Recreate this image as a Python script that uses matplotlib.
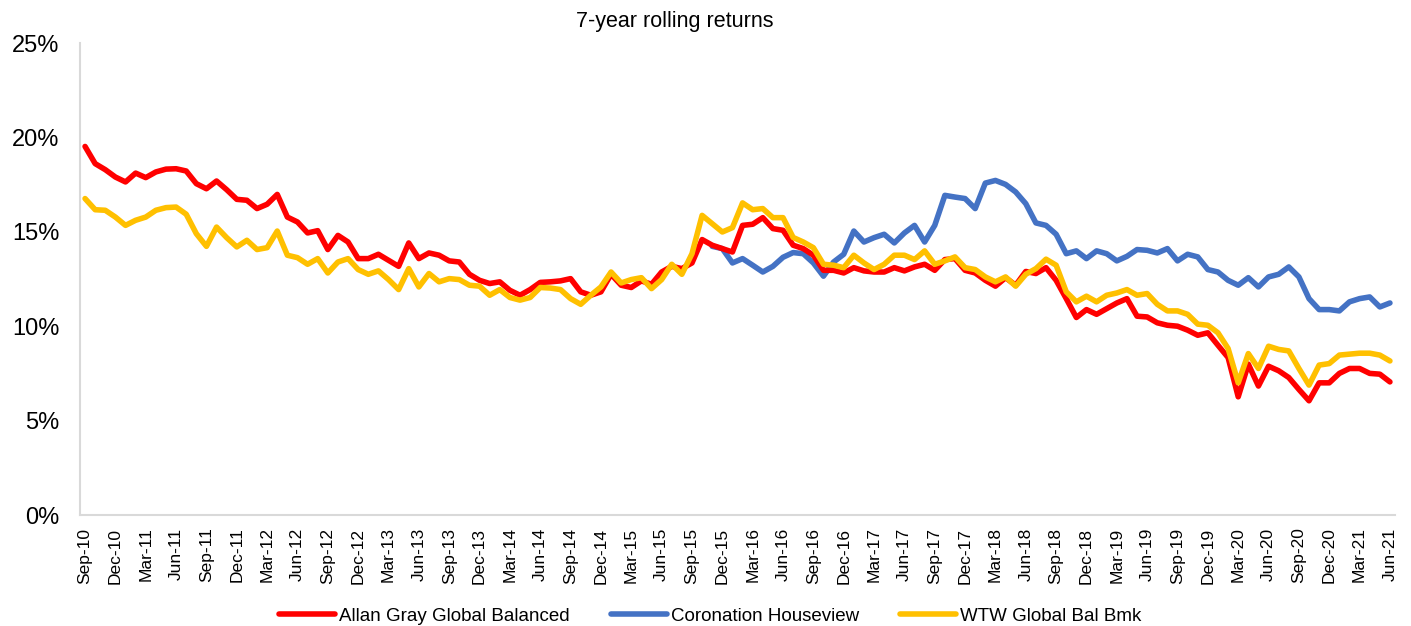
import matplotlib
matplotlib.use("Agg")
import matplotlib.pyplot as plt
import numpy as np
import pandas as pd

plt.rcParams['font.family'] = ['Liberation Sans', 'DejaVu Sans']

start_month = "2010-09"
n_months = 130

allan_gray = [
    19.52, 18.61, 18.29, 17.90, 17.64, 18.11, 17.87, 18.17, 18.32, 18.34,
    18.22, 17.55, 17.28, 17.69, 17.23, 16.72, 16.67, 16.23, 16.46, 16.98,
    15.78, 15.52, 14.94, 15.06, 14.06, 14.81, 14.46, 13.58, 13.58, 13.81,
    13.49, 13.17, 14.41, 13.58, 13.88, 13.76, 13.46, 13.40, 12.75, 12.43,
    12.26, 12.35, 11.90, 11.64, 11.94, 12.32, 12.35, 12.40, 12.52, 11.82,
    11.64, 11.82, 12.75, 12.17, 12.05, 12.40, 12.22, 12.87, 13.17, 13.05,
    13.35, 14.59, 14.29, 14.11, 13.93, 15.34, 15.40, 15.75, 15.17, 15.08,
    14.29, 14.11, 13.76, 12.96, 12.96, 12.82, 13.10, 12.93, 12.87, 12.87,
    13.10, 12.93, 13.14, 13.28, 12.96, 13.53, 13.58, 12.96, 12.82, 12.43,
    12.12, 12.57, 12.17, 12.90, 12.79, 13.10, 12.43, 11.46, 10.46, 10.88,
    10.63, 10.93, 11.23, 11.46, 10.53, 10.49, 10.18, 10.05, 10.00, 9.79,
    9.52, 9.65, 8.99, 8.34, 6.26, 7.99, 6.83, 7.88, 7.64, 7.28,
    6.65, 6.05, 7.00, 7.00, 7.50, 7.76, 7.76, 7.50, 7.46, 7.05,
]

wtw_bmk = [
    16.76, 16.17, 16.14, 15.78, 15.34, 15.61, 15.78, 16.14, 16.28, 16.31,
    15.93, 14.90, 14.23, 15.25, 14.69, 14.20, 14.55, 14.06, 14.16, 15.04,
    13.76, 13.63, 13.28, 13.58, 12.82, 13.40, 13.58, 13.00, 12.75, 12.93,
    12.47, 11.94, 13.05, 12.08, 12.79, 12.35, 12.52, 12.47, 12.17, 12.12,
    11.64, 11.94, 11.52, 11.38, 11.52, 12.05, 12.02, 11.94, 11.46, 11.16,
    11.64, 12.08, 12.87, 12.29, 12.47, 12.57, 11.99, 12.47, 13.28, 12.75,
    13.84, 15.87, 15.43, 14.99, 15.22, 16.53, 16.17, 16.23, 15.75, 15.75,
    14.70, 14.46, 14.16, 13.28, 13.23, 13.10, 13.76, 13.35, 13.00, 13.28,
    13.76, 13.76, 13.53, 13.99, 13.28, 13.46, 13.67, 13.10, 13.00, 12.61,
    12.35, 12.61, 12.12, 12.75, 13.05, 13.55, 13.23, 11.82, 11.29, 11.59,
    11.29, 11.64, 11.76, 11.94, 11.64, 11.73, 11.16, 10.81, 10.81, 10.63,
    10.11, 10.05, 9.65, 8.82, 7.00, 8.55, 7.76, 8.94, 8.77, 8.69,
    7.76, 6.88, 7.94, 8.02, 8.47, 8.52, 8.57, 8.57, 8.47, 8.16,
]

# Coronation series starts in Nov-15 (month index 62)
coronation_start = 62
coronation = [
    14.23, 14.11, 13.35, 13.58, 13.23, 12.87, 13.17, 13.65,
    13.90, 13.84, 13.35, 12.65, 13.40, 13.81, 15.04, 14.46, 14.69, 14.87,
    14.41, 14.94, 15.34, 14.46, 15.34, 16.93, 16.84, 16.76, 16.23, 17.58,
    17.72, 17.51, 17.11, 16.49, 15.47, 15.34, 14.87, 13.84, 13.99, 13.58,
    13.99, 13.84, 13.46, 13.70, 14.06, 14.02, 13.88, 14.11, 13.46, 13.81,
    13.67, 13.00, 12.87, 12.43, 12.17, 12.57, 12.08, 12.61, 12.75, 13.14,
    12.61, 11.46, 10.88, 10.88, 10.81, 11.29, 11.46, 11.55, 11.02, 11.23,
]

series_names = ["Allan Gray Global Balanced", "Coronation Houseview", "WTW Global Bal Bmk"]
series_colors = ["#FF0000", "#4472C4", "#FFC000"]
y_ticks = [0, 5, 10, 15, 20, 25]

dates = pd.date_range(start_month, periods=n_months, freq="MS")
month_labels = [d.strftime("%b-%y") for d in dates]
x = np.arange(n_months)

cor_full = np.full(n_months, np.nan)
cor_full[coronation_start:coronation_start + len(coronation)] = coronation

W, H = 1411, 626
fig = plt.figure(figsize=(W / 100, H / 100), dpi=100)
left, right = 80 / W, 1395 / W
bottom, top = 1 - 515 / H, 1 - 43 / H
ax = fig.add_axes([left, bottom, right - left, top - bottom])

lw = 4.0
kw = dict(linewidth=lw, solid_joinstyle="round", solid_capstyle="round")
ax.plot(x, allan_gray, color=series_colors[0], label=series_names[0], zorder=3, **kw)
ax.plot(x, cor_full, color=series_colors[1], label=series_names[1], zorder=2, **kw)
ax.plot(x, wtw_bmk, color=series_colors[2], label=series_names[2], zorder=4, **kw)

ax.set_xlim(-0.5, n_months - 0.5)
ax.set_ylim(0, 25)
ax.set_yticks(y_ticks)
ax.set_yticklabels([f"{v}%" for v in y_ticks], fontsize=17)
tick_idx = x[::3]
ax.set_xticks(tick_idx)
ax.set_xticklabels([month_labels[i] for i in tick_idx], rotation=90, fontsize=12.5)
ax.tick_params(axis="both", length=0)
ax.tick_params(axis="y", pad=15)
ax.tick_params(axis="x", pad=9)

for s in ["top", "right"]:
    ax.spines[s].set_visible(False)
for s in ["left", "bottom"]:
    ax.spines[s].set_color("#D9D9D9")
    ax.spines[s].set_linewidth(1.5)

fig.text(675 / W, 1 - 22 / H, "7-year rolling returns", ha="center", va="center", fontsize=15.5)

handles, labels = ax.get_legend_handles_labels()
leg = fig.legend(handles, labels, loc="center", bbox_to_anchor=(710 / W, 1 - 616 / H),
                 ncol=3, frameon=False, fontsize=13.5, handlelength=3.0,
                 handletextpad=0.2, columnspacing=2.2, borderaxespad=0)

fig.savefig("out.png", dpi=100)
